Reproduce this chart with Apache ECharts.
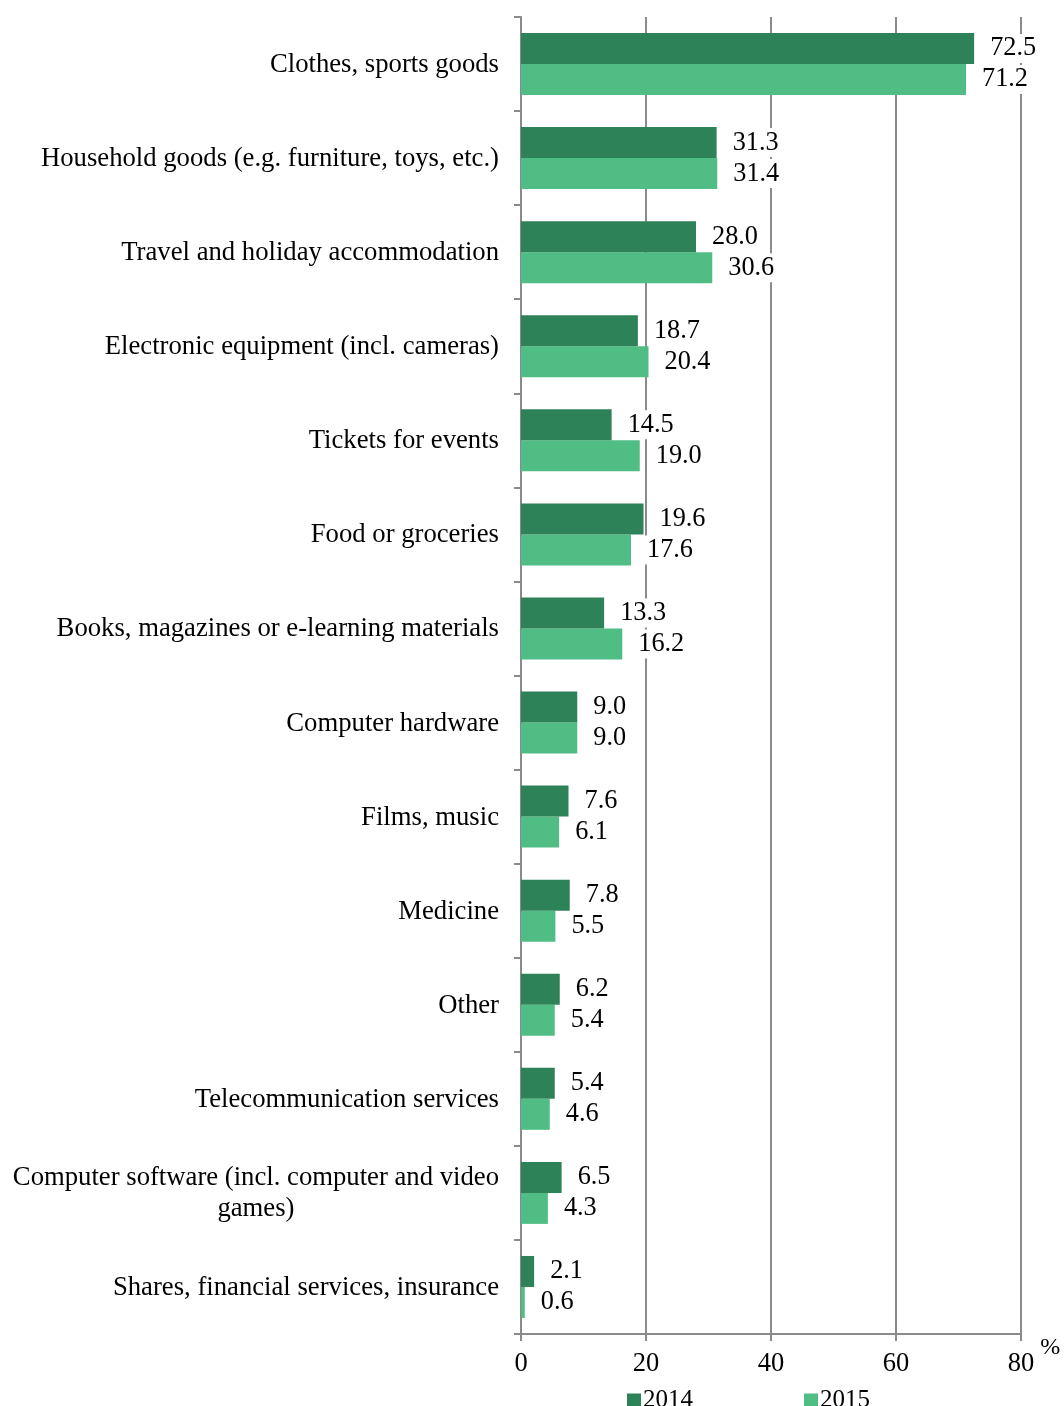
<!DOCTYPE html>
<html>
<head>
<meta charset="utf-8">
<script src="https://cdn.jsdelivr.net/npm/echarts@6/dist/echarts.min.js"></script>
<style>
  html, body { margin: 0; padding: 0; background: #fff; }
  #chart { width: 1064px; height: 1406px; }
</style>
</head>
<body>
<div id="chart"></div>
<script>
// Purchase categories, listed top to bottom
const categories = [
  'Clothes, sports goods',
  'Household goods (e.g. furniture, toys, etc.)',
  'Travel and holiday accommodation',
  'Electronic equipment (incl. cameras)',
  'Tickets for events',
  'Food or groceries',
  'Books, magazines or e-learning materials',
  'Computer hardware',
  'Films, music',
  'Medicine',
  'Other',
  'Telecommunication services',
  'Computer software (incl. computer and video\ngames)',
  'Shares, financial services, insurance'
];
const values2014 = [72.5, 31.3, 28.0, 18.7, 14.5, 19.6, 13.3, 9.0, 7.6, 7.8, 6.2, 5.4, 6.5, 2.1];
const values2015 = [71.2, 31.4, 30.6, 20.4, 19.0, 17.6, 16.2, 9.0, 6.1, 5.5, 5.4, 4.6, 4.3, 0.6];
const seriesNames = ['2014', '2015'];
const xTicks = { min: 0, max: 80, interval: 20 };

const FONT = '"Liberation Serif", "Times New Roman", serif';
const GRAY = '#8a8a8a';
const DARK = '#2e8257';
const LIGHT = '#4fbd84';

const chart = echarts.init(document.getElementById('chart'));

// Value labels sit on a white box so the gridlines break around them
const valueLabel = {
  show: true,
  position: 'right',
  distance: 12,
  color: '#000',
  fontFamily: FONT,
  fontSize: 26.3,
  backgroundColor: '#fff',
  padding: [3, 4, 0, 4],
  formatter: p => p.value.toFixed(1)
};

chart.setOption({
  animation: false,
  backgroundColor: '#fff',
  textStyle: { fontFamily: FONT },
  grid: { left: 521, right: 43, top: 17, bottom: 72, containLabel: false },
  legend: {
    data: seriesNames,
    left: 622,
    top: 1383,
    icon: 'rect',
    itemWidth: 14,
    itemHeight: 14,
    itemGap: 111,
    textStyle: { fontFamily: FONT, fontSize: 25, color: '#000', padding: [0, 0, 0, -3] }
  },
  xAxis: {
    type: 'value',
    min: xTicks.min,
    max: xTicks.max,
    interval: xTicks.interval,
    name: '%',
    nameLocation: 'end',
    nameGap: 19,
    nameTextStyle: { fontFamily: FONT, fontSize: 24, color: '#000', verticalAlign: 'top', padding: [2, 0, 0, 0] },
    axisLine: { show: true, lineStyle: { color: GRAY, width: 2 } },
    axisTick: { show: true, length: 7, lineStyle: { color: GRAY, width: 2 } },
    axisLabel: { color: '#000', fontFamily: FONT, fontSize: 26.5, margin: 17 },
    splitLine: { show: true, lineStyle: { color: GRAY, width: 2 } }
  },
  yAxis: {
    type: 'category',
    data: categories,
    inverse: true,
    axisLine: { show: true, lineStyle: { color: GRAY, width: 2 } },
    axisTick: { show: true, length: 7, inside: false, lineStyle: { color: GRAY, width: 2 } },
    axisLabel: {
      color: '#000',
      fontFamily: FONT,
      fontSize: 26.7,
      margin: 22,
      lineHeight: 31,
      padding: [2, 0, 0, 0],
      formatter: v => v.split('\n').map(s => '{c|' + s + '}').join('\n'),
      rich: { c: { align: 'center', fontFamily: FONT, fontSize: 26.7, lineHeight: 31, color: '#000' } }
    },
    splitLine: { show: false }
  },
  series: [
    {
      name: seriesNames[0],
      type: 'bar',
      data: values2014,
      barWidth: 31,
      barGap: '0%',
      itemStyle: { color: DARK },
      label: valueLabel,
      z: 3
    },
    {
      name: seriesNames[1],
      type: 'bar',
      data: values2015,
      barWidth: 31,
      barGap: '0%',
      itemStyle: { color: LIGHT },
      label: valueLabel,
      z: 2
    }
  ]
});
</script>
</body>
</html>
